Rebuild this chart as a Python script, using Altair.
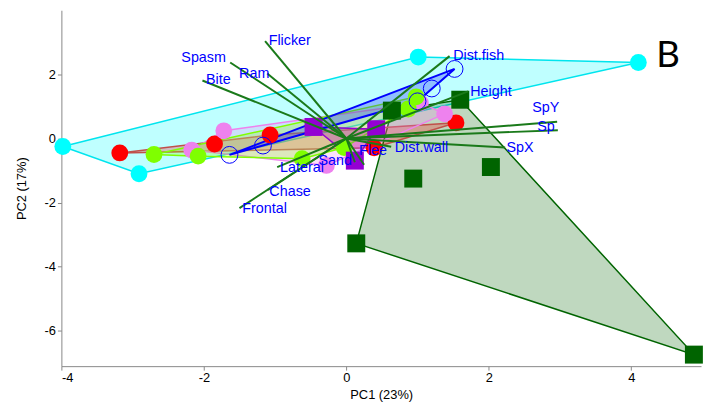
import altair as alt
import pandas as pd

# ---- data (PC1, PC2) ----
cyan_x = [-3.98, -2.91, 1.01, 4.10]
cyan_y = [-0.25, -1.10, 2.54, 2.37]
red_x = [-3.18, -1.85, -1.07, 0.39, 1.54]
red_y = [-0.45, -0.17, 0.11, -0.29, 0.49]
violet_x = [-2.17, -1.72, -0.28, 1.04, 1.38]
violet_y = [-0.36, 0.24, -0.84, 1.11, 0.77]
lime_x = [-2.70, -2.08, -0.62, -0.03, 0.87, 0.98]
lime_y = [-0.50, -0.55, -0.63, -0.28, 0.92, 1.30]
purple_x = [-0.46, 0.42, 0.12]
purple_y = [0.36, 0.29, -0.69]
dgreen_x = [0.64, 1.60, 0.94, 2.03, 0.14, 4.88]
dgreen_y = [0.87, 1.21, -1.25, -0.89, -3.27, -6.74]
blue_x = [-1.64, -1.17, 1.00, 1.20, 1.52]
blue_y = [-0.51, -0.22, 1.16, 1.56, 2.17]

# loadings (vector ends) and label anchors
var_names = ["Flicker", "Spasm", "Ram", "Bite", "Frontal", "Chase", "Lateral", "Sand",
             "Flee", "Dist.wall", "SpX", "SpY", "Sp", "Height", "Dist.fish"]
var_x = [-1.14, -1.63, -1.11, -2.02, -1.50, -1.10, -0.97, 0.12, 0.25, 0.63, 2.23, 2.96, 2.97, 1.71, 1.45]
var_y = [3.04, 2.37, 2.03, 1.81, -2.17, -1.60, -0.89, -0.74, -0.82, -0.26, -0.28, 0.52, 0.26, 1.47, 2.57]
lab_x = [-1.09, -1.69, -1.08, -1.97, -1.46, -1.08, -0.93, -0.39, 0.18, 0.68, 2.25, 2.61, 2.68, 1.74, 1.50]
lab_y = [3.04, 2.51, 2.02, 1.81, -2.19, -1.67, -0.93, -0.69, -0.38, -0.29, -0.29, 0.94, 0.36, 1.44, 2.58]
lab_align = ["left", "right", "right", "left", "left", "left", "left", "left",
             "left", "left", "left", "left", "left", "left", "left"]

XDOM = [-4.0, 4.98]
YDOM = [-7.1, 4.0]

def hull(xs, ys):
    pts = sorted(set(zip(xs, ys)))
    if len(pts) < 3:
        return pts
    def cross(o, a, b):
        return (a[0]-o[0])*(b[1]-o[1]) - (a[1]-o[1])*(b[0]-o[0])
    lower, upper = [], []
    for p in pts:
        while len(lower) >= 2 and cross(lower[-2], lower[-1], p) <= 0:
            lower.pop()
        lower.append(p)
    for p in reversed(pts):
        while len(upper) >= 2 and cross(upper[-2], upper[-1], p) <= 0:
            upper.pop()
        upper.append(p)
    return lower[:-1] + upper[:-1]

xs = alt.Scale(domain=XDOM, nice=False, zero=False)
ys = alt.Scale(domain=YDOM, nice=False, zero=False)
LBL = "'' + datum.value"
X = lambda f="x": alt.X(f"{f}:Q", scale=xs, axis=alt.Axis(values=[-4, -2, 0, 2, 4], title="PC1 (23%)",
                                                           labelExpr=LBL, titlePadding=4))
Y = lambda f="y": alt.Y(f"{f}:Q", scale=ys, axis=alt.Axis(values=[-6, -4, -2, 0, 2], title="PC2 (17%)",
                                                           labelExpr=LBL, titlePadding=16))

def poly_layer(xv, yv, fill, stroke, sw=1.5):
    h = hull(xv, yv)
    h = h + [h[0]]
    df = pd.DataFrame({"x": [p[0] for p in h], "y": [p[1] for p in h], "o": list(range(len(h)))})
    return alt.Chart(df).mark_line(fill=fill, fillOpacity=0.25, stroke=stroke, strokeWidth=sw).encode(
        x=X(), y=Y(), order="o:Q")

def pts_layer(xv, yv, shape, color, size, filled=True):
    df = pd.DataFrame({"x": xv, "y": yv})
    if filled:
        m = alt.Chart(df).mark_point(shape=shape, filled=True, fill=color, opacity=1, size=size, strokeWidth=0)
    else:
        m = alt.Chart(df).mark_point(shape=shape, filled=False, stroke=color, opacity=1, size=size, strokeWidth=1)
    return m.encode(x=X(), y=Y())

layers = [
    poly_layer(cyan_x, cyan_y, "#00ffff", "#00e5ee", 1.5),
    poly_layer(dgreen_x, dgreen_y, "#006400", "#006400", 1.5),
    poly_layer(red_x, red_y, "#ff0000", "#c0504a", 1.5),
    poly_layer(violet_x, violet_y, "#ee82ee", "#ee82ee", 1.5),
    poly_layer(lime_x, lime_y, "#7fff00", "#7fff00", 1.5),
    poly_layer(purple_x, purple_y, "#9400d3", "#9400d3", 1.5),
    poly_layer(blue_x, blue_y, "#0000ff", "#0000ff", 2),
    pts_layer(cyan_x, cyan_y, "circle", "#00ffff", 290),
    pts_layer(red_x, red_y, "circle", "#ff0000", 290),
    pts_layer(violet_x, violet_y, "circle", "#ee82ee", 290),
    pts_layer(lime_x, lime_y, "circle", "#7fff00", 290),
    pts_layer(purple_x, purple_y, "square", "#9400d3", 330),
    pts_layer(dgreen_x, dgreen_y, "square", "#006400", 330),
    pts_layer(blue_x, blue_y, "circle", "#0000ff", 290, filled=False),
]

vec = pd.DataFrame({"name": var_names, "x": var_x, "y": var_y, "x0": [0.0]*len(var_x), "y0": [0.0]*len(var_x),
                    "lx": lab_x, "ly": lab_y, "al": lab_align})
layers.append(alt.Chart(vec).mark_rule(color="#1a7a1a", strokeWidth=2).encode(
    x=X("x0"), y=Y("y0"), x2="x:Q", y2="y:Q"))
for al in ["left", "right"]:
    layers.append(alt.Chart(vec[vec.al == al]).mark_text(
        align=al, baseline="middle", font="Liberation Sans", fontSize=14.5, color="#0000ff").encode(
        x=X("lx"), y=Y("ly"), text="name:N"))

ann = pd.DataFrame({"x": [4.35], "y": [2.24], "t": ["B"]})
layers.append(alt.Chart(ann).mark_text(align="left", baseline="alphabetic", font="Lato",
                                        fontSize=37, color="black").encode(x=X(), y=Y(), text="t:N"))

chart = alt.layer(*layers).properties(
    width=647, height=360,
    autosize=alt.AutoSizeParams(type="none"),
    padding={"left": 54, "top": 0, "right": 2, "bottom": 36},
).configure_view(stroke=None).configure_axis(
    grid=False, domainColor="#888888", tickColor="#888888", tickSize=4,
    labelFont="Liberation Sans", labelFontSize=13, labelColor="black",
    titleFont="Liberation Sans", titleFontSize=13, titleFontWeight="normal", titleColor="black",
)

chart.save("out.html", embed_options={"renderer": "svg", "actions": False})
